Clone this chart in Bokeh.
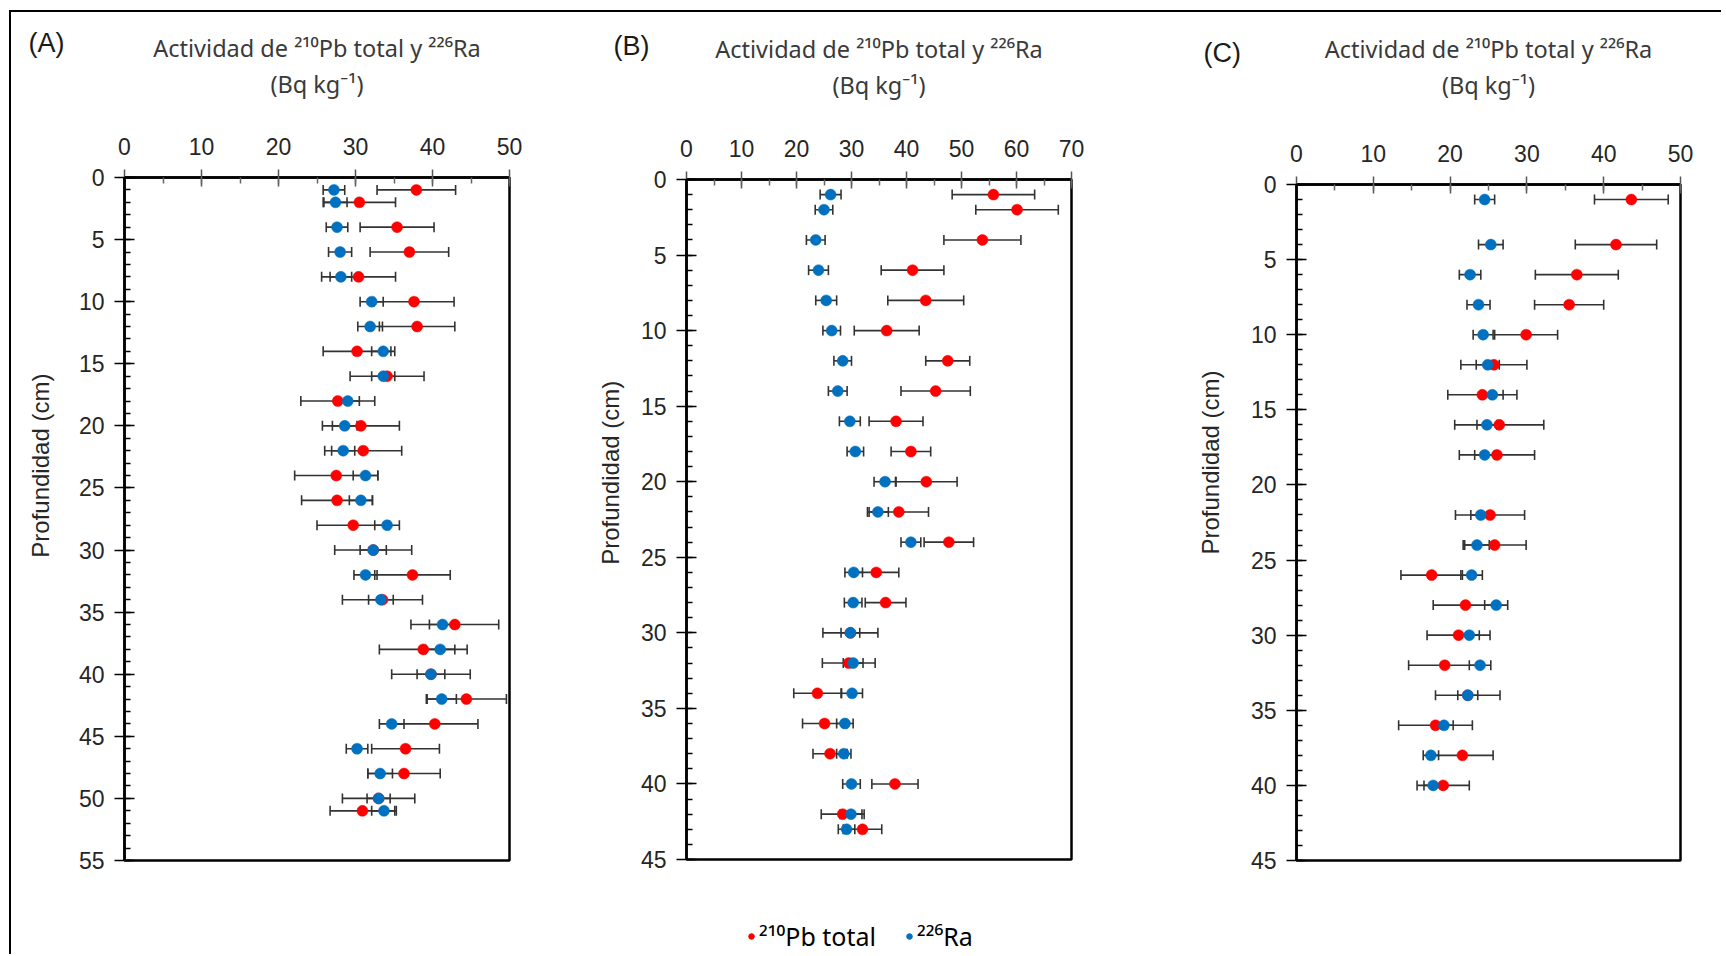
from bokeh.plotting import figure
from bokeh.models import (Range1d, SingleIntervalTicker, ColumnDataSource, Whisker,
                          TeeHead, Legend, LegendItem)
from bokeh.layouts import row, column
from bokeh.embed import file_html
from bokeh.resources import INLINE

# ---------------- data ----------------
depth_A = [1, 2, 4, 6, 8, 10, 12, 14, 16, 18, 20, 22, 24, 26, 28, 30, 32, 34, 36, 38, 40, 42, 44, 46, 48, 50, 51]
pb_A = [37.9, 30.5, 35.4, 37.0, 30.4, 37.6, 38.0, 30.2, 34.1, 27.7, 30.7, 31.0, 27.5, 27.6, 29.7, 32.3, 37.4, 33.5,
        42.9, 38.8, 39.8, 44.4, 40.3, 36.5, 36.3, 33.0, 30.9]
pb_err_A = [5.1, 4.7, 4.8, 5.1, 4.8, 5.2, 4.9, 4.4, 4.8, 4.8, 5.0, 5.0, 5.4, 4.6, 4.7, 5.0, 4.9, 5.2, 5.7, 5.7, 5.1,
            5.2, 5.6, 4.4, 4.7, 4.7, 4.2]
ra_A = [27.2, 27.4, 27.6, 28.0, 28.1, 32.1, 31.9, 33.6, 33.6, 29.0, 28.6, 28.4, 31.3, 30.7, 34.1, 32.3, 31.3, 33.3,
        41.3, 41.0, 39.8, 41.2, 34.7, 30.2, 33.2, 33.0, 33.7]
ra_err_A = [1.4, 1.5, 1.4, 1.5, 1.4, 1.5, 1.6, 1.5, 1.5, 1.5, 1.6, 1.5, 1.6, 1.5, 1.6, 1.7, 1.5, 1.6, 1.7, 1.9, 1.8,
            1.9, 1.6, 1.4, 1.6, 1.5, 1.6]

depth_B = [1, 2, 4, 6, 8, 10, 12, 14, 16, 18, 20, 22, 24, 26, 28, 30, 32, 34, 36, 38, 40, 42, 43]
pb_B = [55.8, 60.1, 53.8, 41.1, 43.5, 36.4, 47.5, 45.3, 38.1, 40.8, 43.6, 38.6, 47.7, 34.5, 36.2, 29.8, 29.5, 23.8,
        25.1, 26.1, 37.9, 28.4, 32.0]
pb_err_B = [7.5, 7.5, 7.0, 5.7, 6.9, 5.9, 4.0, 6.3, 4.9, 3.6, 5.6, 5.4, 4.5, 4.1, 3.7, 5.0, 4.8, 4.3, 4.0, 3.1, 4.2,
            3.9, 3.5]
ra_B = [26.2, 25.0, 23.5, 24.0, 25.4, 26.4, 28.4, 27.5, 29.7, 30.7, 36.1, 34.8, 40.8, 30.4, 30.3, 29.8, 30.3, 30.1,
        28.8, 28.6, 30.0, 29.9, 29.1]
ra_err_B = [1.9, 1.6, 1.7, 1.8, 1.9, 1.6, 1.6, 1.7, 1.9, 1.5, 2.0, 1.9, 1.8, 1.6, 1.6, 1.7, 1.8, 1.9, 1.5, 1.3, 1.6,
            2.0, 1.5]

depth_C = [1, 4, 6, 8, 10, 12, 14, 16, 18, 22, 24, 26, 28, 30, 32, 34, 36, 38, 40]
pb_C = [43.6, 41.6, 36.5, 35.5, 29.9, 25.7, 24.2, 26.4, 26.1, 25.2, 25.8, 17.6, 22.0, 21.1, 19.3, 22.3, 18.1, 21.6,
        19.1]
pb_err_C = [4.8, 5.3, 5.4, 4.5, 4.1, 4.3, 4.5, 5.8, 4.9, 4.5, 4.1, 4.0, 4.2, 4.1, 4.7, 4.2, 4.8, 4.0, 3.4]
ra_C = [24.5, 25.3, 22.6, 23.7, 24.3, 24.9, 25.5, 24.8, 24.5, 24.0, 23.5, 22.8, 26.0, 22.5, 23.9, 22.3, 19.2, 17.5,
        17.8]
ra_err_C = [1.3, 1.6, 1.4, 1.5, 1.3, 1.5, 1.4, 1.3, 1.3, 1.3, 1.6, 1.4, 1.5, 1.3, 1.4, 1.3, 1.2, 1.0, 1.2]

panel_labels = ["(A)", "(B)", "(C)"]
x_max = [50, 70, 50]
y_max = [55, 45, 45]
title_text = "Actividad de \u00b2\u00b9\u2070Pb total y \u00b2\u00b2\u2076Ra\n(Bq kg\u207b\u00b9)"
y_title = "Profundidad  (cm)"
legend_labels = ["\u00b2\u00b9\u2070Pb total", "\u00b2\u00b2\u2076Ra"]

# ---------------- style ----------------
RED = "#ff0000"
BLUE = "#0070c0"
FONT = "Liberation Sans"
SUPFONT = "Noto Sans"
TXT = "#262626"
ERR = "#333333"
NB = "\u00a0"


def make_panel(depth, pb, pb_err, ra, ra_err, xmax, ymax, width, height,
               left, right, top, bottom, ylab_standoff, ypad, label, lab_offset,
               title_standoff, lab_standoff, lab_lh):
    p = figure(width=width, height=height, x_range=Range1d(0, xmax), y_range=Range1d(ymax, 0),
               x_axis_location="above", output_backend="svg", toolbar_location=None,
               min_border_left=left, min_border_right=right, min_border_top=top,
               min_border_bottom=bottom)
    # panel letter: a title whose (empty) first line lets it sit beside the axis title
    p.title.text = "\n" + label
    p.title.align = "left"
    p.title.vertical_align = "bottom"
    p.title.offset = lab_offset
    p.title.standoff = lab_standoff
    p.title.text_line_height = lab_lh
    p.title.text_font = FONT
    p.title.text_font_size = "27px"
    p.title.text_font_style = "normal"
    p.title.text_color = "#1a1a1a"

    p.xgrid.visible = False
    p.ygrid.visible = False
    p.outline_line_color = "black"
    p.outline_line_width = 2.5
    p.background_fill_color = "white"
    p.border_fill_color = "white"

    xa = p.xaxis[0]
    xa.ticker = SingleIntervalTicker(interval=10, num_minor_ticks=2)
    xa.axis_line_color = "black"
    xa.axis_line_width = 2.5
    xa.major_tick_line_color = "#555555"
    xa.major_tick_line_width = 1.5
    xa.major_tick_in = 9
    xa.major_tick_out = 8
    xa.minor_tick_line_color = "#666666"
    xa.minor_tick_line_width = 1.5
    xa.minor_tick_in = 6
    xa.minor_tick_out = 0
    xa.major_label_text_font = FONT
    xa.major_label_text_font_size = "23px"
    xa.major_label_text_color = TXT
    xa.major_label_standoff = 15
    xa.axis_label = title_text
    xa.axis_label_text_font = SUPFONT
    xa.axis_label_text_font_size = "23.5px"
    xa.axis_label_text_line_height = 1.1
    xa.axis_label_text_font_style = "normal"
    xa.axis_label_text_color = "#3a3a3a"
    xa.axis_label_standoff = title_standoff

    ya = p.yaxis[0]
    ya.ticker = SingleIntervalTicker(interval=5, num_minor_ticks=5)
    ya.axis_line_color = "black"
    ya.axis_line_width = 2.5
    ya.major_tick_line_color = "black"
    ya.major_tick_line_width = 1.5
    ya.major_tick_in = 10
    ya.major_tick_out = 10
    ya.minor_tick_line_color = "black"
    ya.minor_tick_line_width = 1.5
    ya.minor_tick_in = 6
    ya.minor_tick_out = 0
    ya.major_label_text_font = FONT
    ya.major_label_text_font_size = "23px"
    ya.major_label_text_color = TXT
    ya.major_label_standoff = 10
    ya.axis_label = NB * ypad + y_title
    ya.axis_label_text_font = FONT
    ya.axis_label_text_font_size = "24px"
    ya.axis_label_text_font_style = "normal"
    ya.axis_label_text_color = TXT
    ya.axis_label_standoff = ylab_standoff

    pb_src = ColumnDataSource(dict(y=depth, x=pb,
                                   lo=[v - e for v, e in zip(pb, pb_err)],
                                   hi=[v + e for v, e in zip(pb, pb_err)]))
    ra_src = ColumnDataSource(dict(y=depth, x=ra,
                                   lo=[v - e for v, e in zip(ra, ra_err)],
                                   hi=[v + e for v, e in zip(ra, ra_err)]))
    for src in (pb_src, ra_src):
        w = Whisker(base="y", lower="lo", upper="hi", source=src, dimension="width",
                    line_color=ERR, line_width=1.6,
                    lower_head=TeeHead(size=10, line_color=ERR, line_width=1.6),
                    upper_head=TeeHead(size=10, line_color=ERR, line_width=1.6))
        p.add_layout(w)
    p.scatter("x", "y", source=pb_src, size=11, fill_color=RED, line_color=RED, line_width=0.5)
    p.scatter("x", "y", source=ra_src, size=11, fill_color=BLUE, line_color=BLUE, line_width=0.5)
    return p, pb_src, ra_src


H = 906
pA, _, _ = make_panel(depth_A, pb_A, pb_err_A, ra_A, ra_err_A, x_max[0], y_max[0], 549, H,
                      113, 51, 165, H - 165 - 683, 22, 17, panel_labels[0], -96, 35, -57, 1.2)
pB, sB_pb, sB_ra = make_panel(depth_B, pb_B, pb_err_B, ra_B, ra_err_B, x_max[1], y_max[1], 570, H,
                              126, 59, 167, H - 167 - 680, 14, 15, panel_labels[1], -73, 36, -60, 1.2)
pC, _, _ = make_panel(depth_C, pb_C, pb_err_C, ra_C, ra_err_C, x_max[2], y_max[2], 590, H,
                      166, 40, 172, H - 172 - 676, 24, 19, panel_labels[2], -93, 41, -74, 1.6)

# legend strip under the panels (its markers use panel B's sources, kept out of view)
leg = figure(width=1710, height=36, x_range=Range1d(-20, -10), y_range=Range1d(-20, -10),
             output_backend="svg", toolbar_location=None,
             min_border_left=0, min_border_right=0, min_border_top=0, min_border_bottom=0)
leg.axis.visible = False
leg.xgrid.visible = False
leg.ygrid.visible = False
leg.outline_line_color = None
r1 = leg.scatter("x", "y", source=sB_pb, size=13, fill_color=RED, line_color=RED)
r2 = leg.scatter("x", "y", source=sB_ra, size=13, fill_color=BLUE, line_color=BLUE)
legend = Legend(items=[LegendItem(label=legend_labels[0], renderers=[r1]),
                       LegendItem(label=legend_labels[1], renderers=[r2])],
                orientation="horizontal", location=(733, 1),
                label_text_font=SUPFONT, label_text_font_size="25px", label_text_color="black",
                glyph_width=14, glyph_height=30, label_standoff=1, spacing=26,
                padding=0, margin=0, border_line_color=None, background_fill_alpha=0)
leg.add_layout(legend)

layout = column(row(column(pA), column(pB), column(pC)), leg,
                styles={"border-left": "2px solid black", "border-top": "2px solid black",
                        "margin-left": "9px", "margin-top": "10px"})

open("out.html", "w").write(file_html(layout, INLINE))
